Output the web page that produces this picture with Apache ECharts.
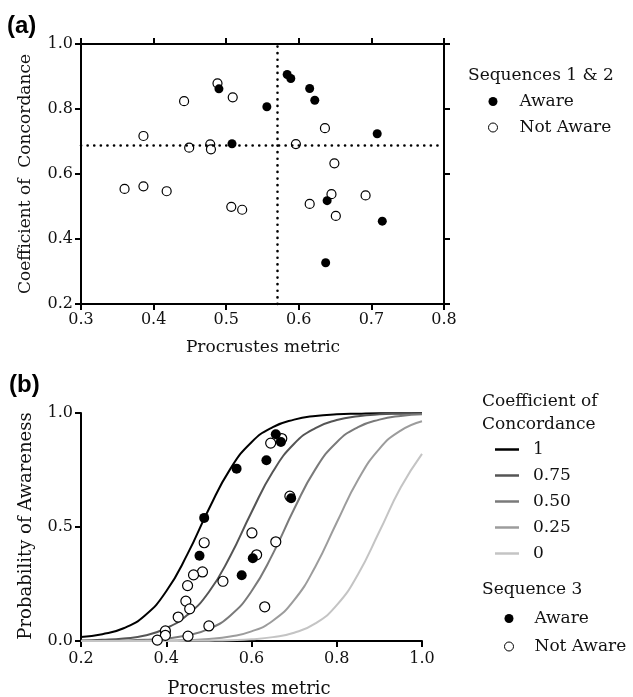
<!DOCTYPE html>
<html>
<head>
<meta charset="utf-8">
<script src="https://cdn.jsdelivr.net/npm/echarts@6/dist/echarts.min.js"></script>
<style>
  html, body { margin: 0; padding: 0; background: #fff; }
  #main { width: 633px; height: 697px; }
</style>
</head>
<body>
<div id="main"></div>
<script>
// panel (a): sequences 1 & 2, [procrustes metric, coefficient of concordance]
const seq12Aware = [
  [0.490, 0.862], [0.508, 0.693], [0.584, 0.906], [0.589, 0.894], [0.615, 0.863],
  [0.622, 0.827], [0.556, 0.807], [0.708, 0.724], [0.639, 0.518], [0.715, 0.455],
  [0.637, 0.327]
];
const seq12NotAware = [
  [0.488, 0.879], [0.509, 0.836], [0.442, 0.824], [0.386, 0.717], [0.449, 0.681],
  [0.478, 0.691], [0.479, 0.676], [0.636, 0.741], [0.596, 0.692], [0.649, 0.633],
  [0.360, 0.554], [0.386, 0.562], [0.418, 0.547], [0.507, 0.499], [0.522, 0.490],
  [0.645, 0.538], [0.615, 0.508], [0.692, 0.534], [0.651, 0.471]
];
const cutMetric = 0.57;       // vertical dotted line
const cutConcordance = 0.685; // horizontal dotted line

// panel (b): sequence 3, [procrustes metric, probability of awareness]
const seq3Aware = [
  [0.565, 0.756], [0.489, 0.540], [0.478, 0.374], [0.603, 0.363], [0.577, 0.288],
  [0.657, 0.907], [0.669, 0.873], [0.635, 0.793], [0.693, 0.626]
];
const seq3NotAware = [
  [0.489, 0.431], [0.601, 0.474], [0.612, 0.378], [0.485, 0.303], [0.464, 0.290],
  [0.533, 0.262], [0.450, 0.243], [0.446, 0.175], [0.455, 0.141], [0.428, 0.105],
  [0.500, 0.066], [0.398, 0.044], [0.398, 0.025], [0.379, 0.004], [0.451, 0.021],
  [0.671, 0.888], [0.645, 0.868], [0.690, 0.635], [0.657, 0.435], [0.631, 0.150]
];

// fitted curves
const metricGrid = [0.2, 0.25, 0.3, 0.35, 0.4, 0.45, 0.5, 0.55, 0.6, 0.65, 0.7, 0.75, 0.8, 0.85, 0.9, 0.95, 1.0];
const probW100 = [0.018, 0.03, 0.056, 0.112, 0.218, 0.382, 0.579, 0.754, 0.872, 0.938, 0.971, 0.987, 0.994, 0.997, 0.999, 0.999, 1.0];
const probW075 = [0.002, 0.005, 0.011, 0.024, 0.056, 0.115, 0.215, 0.372, 0.565, 0.742, 0.865, 0.934, 0.969, 0.986, 0.994, 0.997, 0.999];
const probW050 = [0.0005, 0.001, 0.002, 0.005, 0.011, 0.025, 0.053, 0.111, 0.218, 0.382, 0.579, 0.754, 0.872, 0.938, 0.971, 0.987, 0.994];
const probW025 = [0.0001, 0.0002, 0.0004, 0.0008, 0.002, 0.004, 0.009, 0.02, 0.042, 0.089, 0.179, 0.327, 0.52, 0.707, 0.843, 0.923, 0.964];
const probW000 = [0, 0, 0.0001, 0.0001, 0.0003, 0.0007, 0.0015, 0.0034, 0.0075, 0.017, 0.036, 0.077, 0.157, 0.293, 0.48, 0.673, 0.821];

const curveNames = ["1", "0.75", "0.50", "0.25", "0"];
const curveColors = ["#000000", "#555555", "#7a7a7a", "#9c9c9c", "#c4c4c4"];
const curveProbs = [probW100, probW075, probW050, probW025, probW000];

const serif = '"DejaVu Serif", serif';

var myChart = echarts.init(document.getElementById("main"));

function axisBase(extra, labelMargin) {
  return Object.assign({
    type: "value",
    axisLine: { show: true, onZero: false, lineStyle: { color: "#000", width: 2 } },
    axisTick: { show: true, length: 6, lineStyle: { color: "#000", width: 2 } },
    splitLine: { show: false },
    axisLabel: {
      color: "#111",
      fontFamily: serif,
      fontSize: 16,
      margin: labelMargin || 8,
      formatter: function (v) { return v.toFixed(1); },
    },
  }, extra);
}

const openStyle = { color: "#fff", borderColor: "#000", borderWidth: 1.2, opacity: 1 };
const fillStyle = { color: "#000", borderColor: "#000", borderWidth: 0, opacity: 1 };
const openIcon = { color: "#fff", borderColor: "#000", borderWidth: 1, opacity: 1 };

var series = [
  {
    name: "cuts",
    type: "scatter",
    xAxisIndex: 0,
    yAxisIndex: 0,
    data: [],
    z: 1,
    markLine: {
      silent: true,
      symbol: "none",
      label: { show: false },
      lineStyle: { color: "#000", width: 2.6, type: [0.1, 6.5], cap: "round" },
      data: [{ xAxis: cutMetric }, { yAxis: cutConcordance }],
    },
  },
  {
    name: "Not Aware",
    type: "scatter",
    xAxisIndex: 0,
    yAxisIndex: 0,
    symbolSize: 9,
    itemStyle: openStyle,
    data: seq12NotAware,
    z: 3,
  },
  {
    name: "Aware",
    type: "scatter",
    xAxisIndex: 0,
    yAxisIndex: 0,
    symbolSize: 9,
    itemStyle: fillStyle,
    data: seq12Aware,
    z: 4,
  },
];

curveNames.forEach(function (name, i) {
  series.push({
    name: name,
    type: "line",
    xAxisIndex: 2,
    yAxisIndex: 2,
    smooth: true,
    symbol: "none",
    lineStyle: { color: curveColors[i], width: 2 },
    itemStyle: { color: curveColors[i] },
    data: metricGrid.map(function (x, k) { return [x, curveProbs[i][k]]; }),
    z: 2,
  });
});

series.push(
  {
    name: "Not Aware",
    type: "scatter",
    xAxisIndex: 2,
    yAxisIndex: 2,
    symbolSize: 10,
    itemStyle: openStyle,
    data: seq3NotAware,
    z: 3,
  },
  {
    name: "Aware",
    type: "scatter",
    xAxisIndex: 2,
    yAxisIndex: 2,
    symbolSize: 10,
    itemStyle: fillStyle,
    data: seq3Aware,
    z: 4,
  }
);

function heading(text, x, y, align, size) {
  return {
    type: "text",
    x: x,
    y: y,
    style: {
      text: text,
      font: (size || 17) + "px " + serif,
      fill: "#111",
      textAlign: align || "left",
      textVerticalAlign: "middle",
    },
  };
}

var option = {
  animation: false,
  backgroundColor: "#fff",
  grid: [
    { left: 81, top: 44, width: 363, height: 260 },
    { left: 81, top: 413, width: 341, height: 228 },
  ],
  xAxis: [
    axisBase({ gridIndex: 0, min: 0.3, max: 0.8, interval: 0.1, position: "bottom" }),
    axisBase({ gridIndex: 0, min: 0.3, max: 0.8, interval: 0.1, position: "top", axisLabel: { show: false } }),
    axisBase({ gridIndex: 1, min: 0.2, max: 1.0, interval: 0.2, position: "bottom" }, 10),
  ],
  yAxis: [
    axisBase({ gridIndex: 0, min: 0.2, max: 1.0, interval: 0.2, position: "left" }),
    axisBase({ gridIndex: 0, min: 0.2, max: 1.0, interval: 0.2, position: "right", axisLabel: { show: false } }),
    axisBase({ gridIndex: 1, min: 0, max: 1.0, interval: 0.5, position: "left" }),
  ],
  legend: [
    {
      orient: "vertical",
      left: 488,
      top: 93,
      padding: 0,
      itemGap: 9,
      itemWidth: 9,
      itemHeight: 9,
      selectedMode: false,
      textStyle: { fontFamily: serif, fontSize: 17, color: "#111", padding: [0, 0, 0, 17] },
      data: [
        { name: "Aware", icon: "circle", itemStyle: fillStyle },
        { name: "Not Aware", icon: "circle", itemStyle: openIcon },
      ],
    },
    {
      orient: "vertical",
      left: 495,
      top: 441,
      padding: 0,
      itemGap: 9,
      itemWidth: 24,
      itemHeight: 2.5,
      selectedMode: false,
      textStyle: { fontFamily: serif, fontSize: 17, color: "#111", padding: [0, 0, 0, 9] },
      data: curveNames.map(function (n, i) {
        return { name: n, icon: "rect", itemStyle: { color: curveColors[i], borderWidth: 0 } };
      }),
    },
    {
      orient: "vertical",
      left: 504,
      top: 610,
      padding: 0,
      itemGap: 11,
      itemWidth: 9,
      itemHeight: 9,
      selectedMode: false,
      textStyle: { fontFamily: serif, fontSize: 17, color: "#111", padding: [0, 0, 0, 16] },
      data: [
        { name: "Aware", icon: "circle", itemStyle: fillStyle },
        { name: "Not Aware", icon: "circle", itemStyle: openIcon },
      ],
    },
  ],
  graphic: [
    { type: "text", x: 7, y: 14, style: { text: "(a)", font: "bold 24px 'Liberation Sans', Arial, sans-serif", fill: "#000" } },
    { type: "text", x: 9, y: 373, style: { text: "(b)", font: "bold 24px 'Liberation Sans', Arial, sans-serif", fill: "#000" } },
    heading("Procrustes metric", 263, 348, "center"),
    heading("Procrustes metric", 249, 689, "center", 18),
    { type: "text", x: 26, y: 174, rotation: Math.PI / 2, style: { text: "Coefficient of  Concordance", font: "17px " + serif, fill: "#111", textAlign: "center", textVerticalAlign: "middle" } },
    { type: "text", x: 26, y: 526, rotation: Math.PI / 2, style: { text: "Probability of Awareness", font: "18px " + serif, fill: "#111", textAlign: "center", textVerticalAlign: "middle" } },
    heading("Sequences 1 & 2", 468, 76),
    heading("Coefficient of", 482, 402),
    heading("Concordance", 482, 425),
    heading("Sequence 3", 482, 590),
  ],
  series: series,
};

option && myChart.setOption(option);
</script>
</body>
</html>
